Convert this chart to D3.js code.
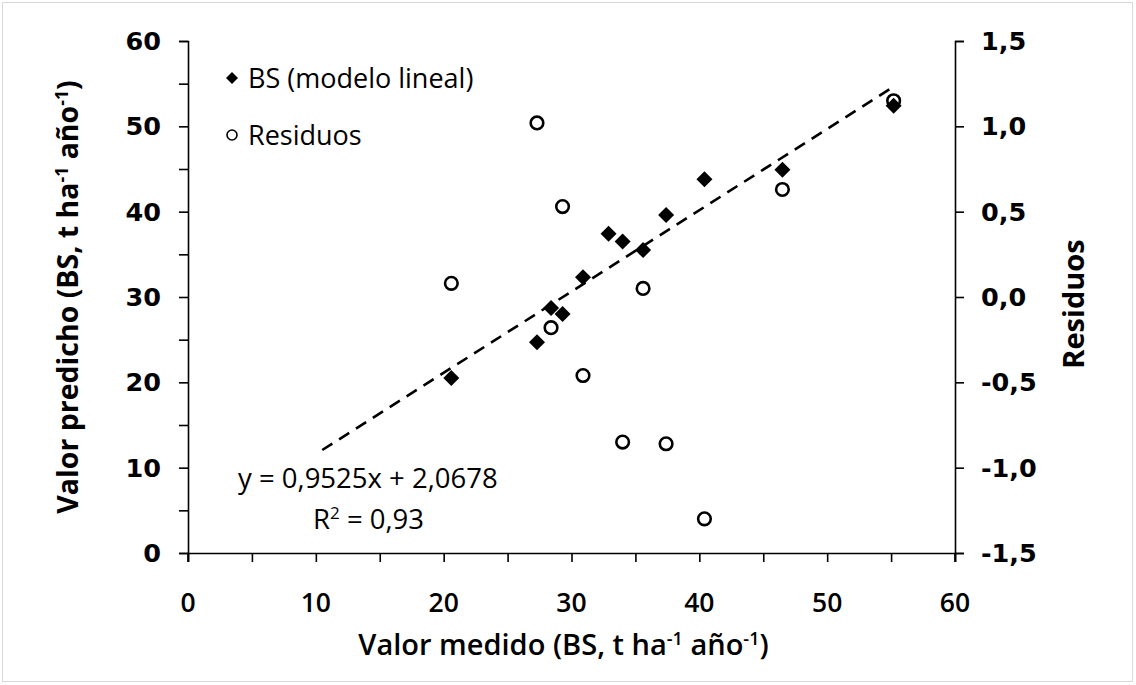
<!DOCTYPE html>
<html><head><meta charset="utf-8">
<script src="https://cdn.jsdelivr.net/npm/d3@7"></script>
<style>body{margin:0;background:#fff}svg{display:block}</style>
</head><body>
<svg id="c" width="1136" height="685"></svg>
<script>
// ---- data ----
const measured   = [20.6, 27.3, 28.4, 29.3, 30.9, 32.9, 34.0, 35.6, 37.4, 40.4, 46.5, 55.2];
const predicted  = [20.5, 24.7, 28.7, 28.0, 32.3, 37.4, 36.5, 35.5, 39.6, 43.8, 44.9, 52.4];
const residMeasured = [20.6, 27.3, 28.4, 29.3, 30.9, 34.0, 35.6, 37.4, 40.4, 46.5, 55.2];
const residValues   = [0.08, 1.02, -0.18, 0.53, -0.46, -0.85, 0.05, -0.86, -1.30, 0.63, 1.15];
const slope = 0.9525, intercept = 2.0678;
const trendRange = [10.5, 55.2];
const xTicks = [0, 10, 20, 30, 40, 50, 60];
const yTicks = [0, 10, 20, 30, 40, 50, 60];
const rTicks = [-1.5, -1.0, -0.5, 0.0, 0.5, 1.0, 1.5];
const legendLabels = ["BS (modelo lineal)", "Residuos"];

const svg = d3.select("#c");
const calib = "'Open Sans', 'Liberation Sans', sans-serif";
const verd = "'DejaVu Sans', Verdana, sans-serif";

svg.append("rect").attr("x",2.5).attr("y",2.5).attr("width",1130).attr("height",679)
  .attr("fill","#fff").attr("stroke","#d9d9d9").attr("stroke-width",1);

const L = 188, R = 955, T = 41, B = 553;
const x = d3.scaleLinear().domain([0,60]).range([L,R]);
const y = d3.scaleLinear().domain([0,60]).range([B,T]);
const yr = d3.scaleLinear().domain([-1.5,1.5]).range([B,T]);

// axes
const gx = svg.append("g").attr("transform",`translate(0,${B})`)
  .call(d3.axisBottom(x).tickValues(d3.range(0,61,5)).tickSize(9).tickFormat(""));
const gy = svg.append("g").attr("transform",`translate(${L},0)`)
  .call(d3.axisLeft(y).tickValues(d3.range(0,61,5)).tickSize(9).tickFormat(""));
const gr = svg.append("g").attr("transform",`translate(${R},0)`)
  .call(d3.axisRight(yr).tickValues(rTicks).tickSize(9).tickFormat(""));
[gx,gy,gr].forEach(g=>{
  g.selectAll("path.domain").attr("stroke","#000").attr("stroke-width",1.6);
  g.selectAll(".tick line").attr("stroke","#000").attr("stroke-width",1.6);
});
svg.append("line").attr("x1",L).attr("x2",L).attr("y1",B).attr("y2",B+9).attr("stroke","#000").attr("stroke-width",1.6);
svg.append("line").attr("x1",R).attr("x2",R).attr("y1",B).attr("y2",B+9).attr("stroke","#000").attr("stroke-width",1.6);

// tick labels
svg.append("g").selectAll("text").data(xTicks).join("text")
  .attr("x",d=>x(d)).attr("y",B+59).attr("text-anchor","middle")
  .attr("font-family",calib).attr("font-weight","600").attr("font-size",26.5).text(d=>d);
svg.append("g").selectAll("text").data(yTicks).join("text")
  .attr("x",L-27).attr("y",d=>y(d)+9).attr("text-anchor","end")
  .attr("font-family",verd).attr("font-weight","bold").attr("font-size",25.5).text(d=>d);
svg.append("g").selectAll("text").data(rTicks).join("text")
  .attr("x",R+26).attr("y",d=>yr(d)+9).attr("text-anchor","start")
  .attr("font-family",verd).attr("font-weight","bold").attr("font-size",25.5)
  .text(d=>d3.format(".1f")(d).replace(".",",").replace("−","-"));

// axis titles
function unitTitle(sel, pre){
  sel.append("tspan").text(pre+" (BS, t ha");
  sel.append("tspan").attr("dy",-10).attr("font-size","62%").text("-1");
  sel.append("tspan").attr("dy",10).text(" año");
  sel.append("tspan").attr("dy",-10).attr("font-size","62%").text("-1");
  sel.append("tspan").attr("dy",10).text(")");
}
const xt = svg.append("text").attr("x",(L+R)/2-8).attr("y",655).attr("text-anchor","middle")
  .attr("font-family",calib).attr("font-weight","600").attr("font-size",29);
unitTitle(xt,"Valor medido");
const yt = svg.append("text").attr("transform",`translate(78,${(T+B)/2}) rotate(-90)`)
  .attr("text-anchor","middle").attr("font-family",calib).attr("font-weight","bold").attr("font-size",28.5);
unitTitle(yt,"Valor predicho");
svg.append("text").attr("transform",`translate(1084,${(T+B)/2+7}) rotate(-90)`)
  .attr("text-anchor","middle").attr("font-family",calib).attr("font-weight","bold").attr("font-size",29)
  .text("Residuos");

// trendline
svg.append("line")
  .attr("x1",x(trendRange[0])).attr("y1",y(slope*trendRange[0]+intercept))
  .attr("x2",x(trendRange[1])).attr("y2",y(slope*trendRange[1]+intercept))
  .attr("stroke","#000").attr("stroke-width",2.6).attr("stroke-dasharray","12,8");

function diamondPath(cx,cy,r){return `M${cx},${cy-r}L${cx+r},${cy}L${cx},${cy+r}L${cx-r},${cy}Z`;}
svg.append("g").selectAll("path").data(measured.map((m,i)=>[m,predicted[i]])).join("path")
  .attr("d",d=>diamondPath(x(d[0]),y(d[1]),8)).attr("fill","#000");
svg.append("g").selectAll("circle").data(residMeasured.map((m,i)=>[m,residValues[i]])).join("circle")
  .attr("cx",d=>x(d[0])).attr("cy",d=>yr(d[1])).attr("r",6.3)
  .attr("fill","none").attr("stroke","#000").attr("stroke-width",2.6);

// legend
svg.append("path").attr("d",diamondPath(232,78,6)).attr("fill","#000");
svg.append("circle").attr("cx",232).attr("cy",135).attr("r",5).attr("fill","#fff").attr("stroke","#000").attr("stroke-width",1.6);
svg.append("text").attr("x",248).attr("y",88).attr("font-family",calib).attr("font-size",27).text(legendLabels[0]);
svg.append("text").attr("x",248).attr("y",145).attr("font-family",calib).attr("font-size",27).text(legendLabels[1]);

// equation
svg.append("text").attr("x",238).attr("y",488).attr("font-family",calib).attr("font-size",27.5)
  .text("y = " + String(slope).replace(".",",") + "x + " + String(intercept).replace(".",","));
const r2 = svg.append("text").attr("x",313).attr("y",529).attr("font-family",calib).attr("font-size",27.5);
r2.append("tspan").text("R");
r2.append("tspan").attr("dy",-10).attr("font-size","62%").text("2");
r2.append("tspan").attr("dy",10).text(" = 0,93");
</script>
</body></html>
